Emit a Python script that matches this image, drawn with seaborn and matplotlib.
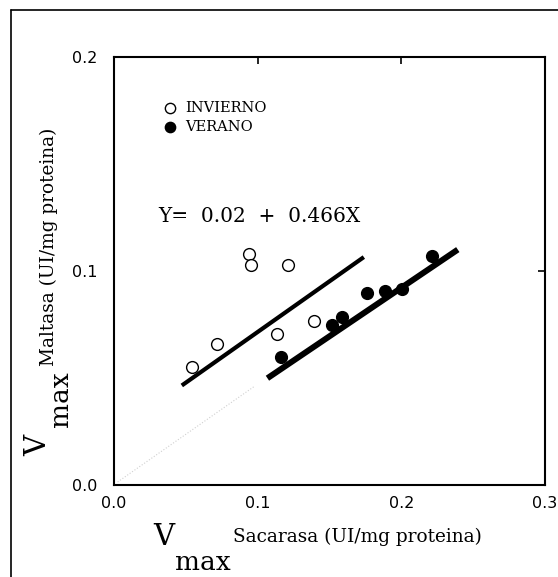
import numpy as np
import pandas as pd
import matplotlib
matplotlib.use("Agg")
import matplotlib.pyplot as plt
import seaborn as sns
from matplotlib.lines import Line2D

# valores
invierno_x = [0.0542, 0.0718, 0.0937, 0.0952, 0.1212, 0.1138, 0.1391]
invierno_y = [0.0550, 0.0659, 0.1080, 0.1030, 0.1030, 0.0707, 0.0765]
verano_x = [0.1165, 0.1516, 0.1585, 0.1764, 0.1883, 0.2005, 0.2211]
verano_y = [0.0599, 0.0748, 0.0787, 0.0897, 0.0907, 0.0918, 0.1072]

# rectas de ajuste (extremos)
fit_inv_x = [0.0472, 0.1739]
fit_inv_y = [0.0465, 0.1065]
fit_ver_x = [0.1068, 0.2393]
fit_ver_y = [0.0499, 0.1100]
faint_x = [0.0025, 0.0975]
faint_y = [0.0014, 0.0460]

x_ticks = [0.0, 0.1, 0.2, 0.3]
y_ticks = [0.0, 0.1, 0.2]
x_ticklabels = ["0.0", "0.1", "0.2", "0.3"]
y_ticklabels = ["0.0", "0.1", "0.2"]
ecuacion = "Y=  0.02  +  0.466X"

df = pd.DataFrame({
    "x": invierno_x + verano_x,
    "y": invierno_y + verano_y,
    "estacion": ["INVIERNO"] * len(invierno_x) + ["VERANO"] * len(verano_x),
})

sns.set_style("white")
plt.rcParams["font.family"] = ["DejaVu Sans"]
plt.rcParams["text.color"] = "black"
plt.rcParams["axes.labelcolor"] = "black"
plt.rcParams["xtick.color"] = "black"
plt.rcParams["ytick.color"] = "black"

W, H = 558, 577
fig = plt.figure(figsize=(W / 100, H / 100), dpi=100)
ax = fig.add_axes([114 / W, 1 - 485 / H, (545 - 114) / W, (485 - 57) / H])

# recta tenue (artefacto del original)
sns.lineplot(x=faint_x, y=faint_y, ax=ax, color="#d0d0d0", lw=0.8,
             linestyle=":", legend=False)
sns.lineplot(x=fit_inv_x, y=fit_inv_y, ax=ax, color="black", lw=3.0,
             legend=False, solid_capstyle="butt")
sns.lineplot(x=fit_ver_x, y=fit_ver_y, ax=ax, color="black", lw=4.3,
             legend=False, solid_capstyle="butt")

sub = df[df.estacion == "INVIERNO"]
sns.scatterplot(data=sub, x="x", y="y", ax=ax, s=72, facecolor="white",
                edgecolor="black", linewidth=1.0, zorder=3, label="INVIERNO")
sub = df[df.estacion == "VERANO"]
sns.scatterplot(data=sub, x="x", y="y", ax=ax, s=72, color="black",
                edgecolor="black", linewidth=1.0, zorder=3, label="VERANO")

ax.set_xlim(0, 0.3)
ax.set_ylim(0, 0.2)
ax.set_xticks(x_ticks)
ax.set_xticklabels(x_ticklabels)
ax.set_yticks(y_ticks)
ax.set_yticklabels(y_ticklabels)
ax.tick_params(direction="in", length=5, width=1.2, labelsize=11.5,
               top=True, right=True, colors="black")
ax.tick_params(axis="x", pad=8)
ax.tick_params(axis="y", pad=12)
ax.set_xlabel("")
ax.set_ylabel("")
for sp in ax.spines.values():
    sp.set_linewidth(1.5)
    sp.set_color("black")

leg = ax.legend(loc="upper left", bbox_to_anchor=(0.112, 0.898), frameon=False,
                borderpad=0, borderaxespad=0, handletextpad=0.6,
                labelspacing=0.35, handlelength=1.0,
                prop={"family": "DejaVu Serif", "size": 10.5})
for h in leg.legend_handles:
    h.set_sizes([55])

ax.text(0.0305, 0.1255, ecuacion, family="DejaVu Serif", fontsize=14.5,
        va="center", ha="left")

# etiquetas de ejes (V_max + texto)
serif = "DejaVu Serif"
fig.text(153 / W, 1 - 545 / H, "V", family=serif, fontsize=21, va="baseline")
fig.text(175 / W, 1 - 570 / H, "max", family=serif, fontsize=19, va="baseline")
fig.text(233 / W, 1 - 542 / H, "Sacarasa (UI/mg proteina)", family=serif,
         fontsize=13.3, va="baseline")

fig.text(46 / W, 1 - 456 / H, "V", family=serif, fontsize=21, rotation=90,
         rotation_mode="anchor", ha="left", va="baseline")
fig.text(68 / W, 1 - 427 / H, "max", family=serif, fontsize=19, rotation=90,
         rotation_mode="anchor", ha="left", va="baseline")
fig.text(54 / W, 1 - 366 / H, "Maltasa (UI/mg proteina)", family=serif,
         fontsize=13.3, rotation=90, rotation_mode="anchor", ha="left",
         va="baseline")

# marco exterior
fig.add_artist(Line2D([11 / W, 11 / W], [0, 1 - 10 / H], color="black",
                      lw=1.2, transform=fig.transFigure))
fig.add_artist(Line2D([11 / W, 1], [1 - 10 / H, 1 - 10 / H], color="black",
                      lw=1.2, transform=fig.transFigure))

fig.savefig("out.png", dpi=100)
